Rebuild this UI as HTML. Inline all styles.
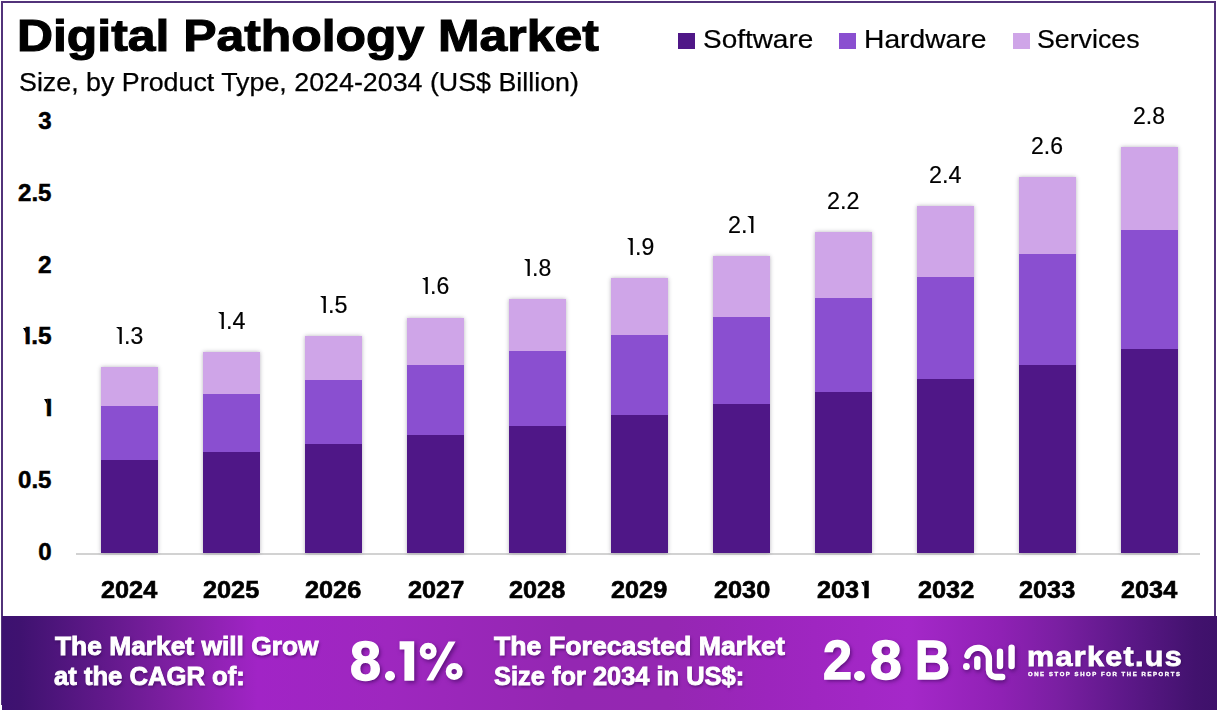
<!DOCTYPE html>
<html><head><meta charset="utf-8"><style>
html,body{margin:0;padding:0;}
body{width:1218px;height:712px;position:relative;overflow:hidden;background:#fff;font-family:"Liberation Sans",sans-serif;}
.t{position:absolute;white-space:nowrap;transform-origin:0 0;}
.frame{position:absolute;left:1px;top:1px;width:1211px;height:700px;border:2px solid #52327a;box-sizing:content-box;}
.bar{position:absolute;box-shadow:0 0 4px rgba(40,30,60,0.34);}
.bar div{width:100%;}
.sv{background:#cfa5e8;}
.hw{background:#8a4fd0;}
.sw{background:#4f1787;}
.axis{position:absolute;left:76px;top:553px;width:1124px;height:2px;background:#d2d2d2;}
.leg{position:absolute;width:17px;height:16.6px;top:32.9px;}
.banner{position:absolute;left:2px;top:616px;width:1215px;height:94px;background:linear-gradient(90deg,#3c1170 0%,#3f1270 1.48%,#63198c 8.72%,#8320a6 14.9%,#a124c6 21.07%,#9e27bf 31.77%,#9427b2 46.58%,#9527b2 54.81%,#9c25bd 63.05%,#a528c9 74.57%,#9021b5 81.98%,#7a1fa2 86.91%,#5c1888 92.67%,#42126e 98.19%,#3e116a 100%);}
.o{position:relative;margin-left:.07em;letter-spacing:0}.o::before{content:"";position:absolute;width:0;height:0;border-left:.17em solid transparent;border-top:.13em solid currentColor;left:-.08em;top:.219em}.ob{position:relative;margin-left:.15em;letter-spacing:0}.ob::before{content:"";position:absolute;width:0;height:0;border-left:.15em solid transparent;border-top:.23em solid currentColor;left:-.06em;top:.219em}
.dot{position:absolute;border-radius:50%;background:#fff;box-shadow:1px 2px 3px rgba(50,0,80,0.55);}
</style></head><body>
<div class="frame"></div>
<div class="axis"></div>
<div class="bar" style="left:100.6px;top:367px;width:57.8px;height:185.6px"><div class="sv" style="height:39px"></div><div class="hw" style="height:54px"></div><div class="sw" style="height:92.6px"></div></div>
<div class="bar" style="left:202.6px;top:352px;width:57.8px;height:200.6px"><div class="sv" style="height:42px"></div><div class="hw" style="height:58px"></div><div class="sw" style="height:100.6px"></div></div>
<div class="bar" style="left:304.6px;top:336px;width:57.8px;height:216.6px"><div class="sv" style="height:44px"></div><div class="hw" style="height:64px"></div><div class="sw" style="height:108.6px"></div></div>
<div class="bar" style="left:406.6px;top:317.5px;width:57.8px;height:235.1px"><div class="sv" style="height:47.5px"></div><div class="hw" style="height:70px"></div><div class="sw" style="height:117.6px"></div></div>
<div class="bar" style="left:508.6px;top:299px;width:57.8px;height:253.6px"><div class="sv" style="height:51.5px"></div><div class="hw" style="height:75px"></div><div class="sw" style="height:127.1px"></div></div>
<div class="bar" style="left:610.6px;top:278px;width:57.8px;height:274.6px"><div class="sv" style="height:56.5px"></div><div class="hw" style="height:80px"></div><div class="sw" style="height:138.1px"></div></div>
<div class="bar" style="left:712.6px;top:256px;width:57.8px;height:296.6px"><div class="sv" style="height:61px"></div><div class="hw" style="height:87px"></div><div class="sw" style="height:148.6px"></div></div>
<div class="bar" style="left:814.6px;top:232px;width:57.8px;height:320.6px"><div class="sv" style="height:66px"></div><div class="hw" style="height:94px"></div><div class="sw" style="height:160.6px"></div></div>
<div class="bar" style="left:916.6px;top:206px;width:57.8px;height:346.6px"><div class="sv" style="height:71px"></div><div class="hw" style="height:102px"></div><div class="sw" style="height:173.6px"></div></div>
<div class="bar" style="left:1018.6px;top:177px;width:57.8px;height:375.6px"><div class="sv" style="height:77px"></div><div class="hw" style="height:111px"></div><div class="sw" style="height:187.6px"></div></div>
<div class="bar" style="left:1120.6px;top:147px;width:57.8px;height:405.6px"><div class="sv" style="height:83px"></div><div class="hw" style="height:119px"></div><div class="sw" style="height:203.6px"></div></div>
<div class="leg" style="left:678.2px;background:#4f1787"></div>
<div class="leg" style="left:839.2px;background:#8a4fd0"></div>
<div class="leg" style="left:1013.2px;background:#cfa5e8"></div>
<div class="banner"></div>
<div class="t" style="left:16.86px;top:12.8px;font-size:45px;line-height:45px;font-weight:bold;color:#000;transform:scaleX(1.1080);-webkit-text-stroke:1.1px #000">Digital Pathology Market</div>
<div class="t" style="left:19.48px;top:69.53px;font-size:25px;line-height:25px;font-weight:normal;color:#000;transform:scaleX(1.0726);-webkit-text-stroke:0.25px #000">Size, by Product Type, 2024-2034 (US$ Billion)</div>
<div class="t" style="left:702.5px;top:26.56px;font-size:25.2px;line-height:25.2px;font-weight:normal;color:#000;transform:scaleX(1.1090);-webkit-text-stroke:0.2px #000">Software</div>
<div class="t" style="left:864.04px;top:26.56px;font-size:25.2px;line-height:25.2px;font-weight:normal;color:#000;transform:scaleX(1.1207);-webkit-text-stroke:0.2px #000">Hardware</div>
<div class="t" style="left:1037.06px;top:26.56px;font-size:25.2px;line-height:25.2px;font-weight:normal;color:#000;transform:scaleX(1.0614);-webkit-text-stroke:0.2px #000">Services</div>
<div class="t" style="left:38.23px;top:539.94px;font-size:24.08px;line-height:24.08px;font-weight:bold;color:#000;-webkit-text-stroke:0.5px #000">0</div>
<div class="t" style="left:18px;top:468.11px;font-size:24.08px;line-height:24.08px;font-weight:bold;color:#000;-webkit-text-stroke:0.5px #000">0.5</div>
<div class="t" style="left:41.83px;top:395.93px;font-size:24.78px;line-height:24.78px;font-weight:bold;color:#000;-webkit-text-stroke:0.5px #000"><span class="ob">I</span></div>
<div class="t" style="left:20.7px;top:324.17px;font-size:24.43px;line-height:24.43px;font-weight:bold;color:#000;-webkit-text-stroke:0.5px #000"><span class="ob">I</span>.5</div>
<div class="t" style="left:38.05px;top:252.59px;font-size:24.43px;line-height:24.43px;font-weight:bold;color:#000;-webkit-text-stroke:0.5px #000">2</div>
<div class="t" style="left:18px;top:180.81px;font-size:24.08px;line-height:24.08px;font-weight:bold;color:#000;-webkit-text-stroke:0.5px #000">2.5</div>
<div class="t" style="left:38.23px;top:108.99px;font-size:24.08px;line-height:24.08px;font-weight:bold;color:#000;-webkit-text-stroke:0.5px #000">3</div>
<div class="t" style="left:101.05px;top:578.97px;font-size:23.52px;line-height:23.52px;font-weight:bold;color:#000;transform:scaleX(1.0750);-webkit-text-stroke:0.6px #000">2024</div>
<div class="t" style="left:203.31px;top:578.97px;font-size:23.52px;line-height:23.52px;font-weight:bold;color:#000;transform:scaleX(1.0750);-webkit-text-stroke:0.6px #000">2025</div>
<div class="t" style="left:305.43px;top:578.97px;font-size:23.52px;line-height:23.52px;font-weight:bold;color:#000;transform:scaleX(1.0750);-webkit-text-stroke:0.6px #000">2026</div>
<div class="t" style="left:407.56px;top:578.97px;font-size:23.52px;line-height:23.52px;font-weight:bold;color:#000;transform:scaleX(1.0750);-webkit-text-stroke:0.6px #000">2027</div>
<div class="t" style="left:509.43px;top:578.97px;font-size:23.52px;line-height:23.52px;font-weight:bold;color:#000;transform:scaleX(1.0750);-webkit-text-stroke:0.6px #000">2028</div>
<div class="t" style="left:611.43px;top:578.97px;font-size:23.52px;line-height:23.52px;font-weight:bold;color:#000;transform:scaleX(1.0750);-webkit-text-stroke:0.6px #000">2029</div>
<div class="t" style="left:713.56px;top:578.97px;font-size:23.52px;line-height:23.52px;font-weight:bold;color:#000;transform:scaleX(1.0750);-webkit-text-stroke:0.6px #000">2030</div>
<div class="t" style="left:817.46px;top:578.97px;font-size:23.52px;line-height:23.52px;font-weight:bold;color:#000;transform:scaleX(1.0750);-webkit-text-stroke:0.6px #000">203<span class="ob">I</span></div>
<div class="t" style="left:917.56px;top:578.97px;font-size:23.52px;line-height:23.52px;font-weight:bold;color:#000;transform:scaleX(1.0750);-webkit-text-stroke:0.6px #000">2032</div>
<div class="t" style="left:1019.43px;top:578.97px;font-size:23.52px;line-height:23.52px;font-weight:bold;color:#000;transform:scaleX(1.0750);-webkit-text-stroke:0.6px #000">2033</div>
<div class="t" style="left:1121.05px;top:578.97px;font-size:23.52px;line-height:23.52px;font-weight:bold;color:#000;transform:scaleX(1.0750);-webkit-text-stroke:0.6px #000">2034</div>
<div class="t" style="left:116.4px;top:323.91px;font-size:23.94px;line-height:23.94px;font-weight:normal;color:#000;transform:scaleX(0.9600);-webkit-text-stroke:0.2px #000"><span class="o">I</span>.3</div>
<div class="t" style="left:218.09px;top:308.86px;font-size:24.29px;line-height:24.29px;font-weight:normal;color:#000;transform:scaleX(0.9600);-webkit-text-stroke:0.2px #000"><span class="o">I</span>.4</div>
<div class="t" style="left:320.21px;top:292.61px;font-size:24.29px;line-height:24.29px;font-weight:normal;color:#000;transform:scaleX(0.9600);-webkit-text-stroke:0.2px #000"><span class="o">I</span>.5</div>
<div class="t" style="left:422.4px;top:274.41px;font-size:23.94px;line-height:23.94px;font-weight:normal;color:#000;transform:scaleX(0.9600);-webkit-text-stroke:0.2px #000"><span class="o">I</span>.6</div>
<div class="t" style="left:524.4px;top:255.91px;font-size:23.94px;line-height:23.94px;font-weight:normal;color:#000;transform:scaleX(0.9600);-webkit-text-stroke:0.2px #000"><span class="o">I</span>.8</div>
<div class="t" style="left:626.51px;top:234.91px;font-size:23.94px;line-height:23.94px;font-weight:normal;color:#000;transform:scaleX(0.9600);-webkit-text-stroke:0.2px #000"><span class="o">I</span>.9</div>
<div class="t" style="left:728.21px;top:212.86px;font-size:24.29px;line-height:24.29px;font-weight:normal;color:#000;transform:scaleX(0.9600);-webkit-text-stroke:0.2px #000">2.<span class="o">I</span></div>
<div class="t" style="left:827.3px;top:188.86px;font-size:24.29px;line-height:24.29px;font-weight:normal;color:#000;transform:scaleX(0.9600);-webkit-text-stroke:0.2px #000">2.2</div>
<div class="t" style="left:929.06px;top:162.86px;font-size:24.29px;line-height:24.29px;font-weight:normal;color:#000;transform:scaleX(0.9600);-webkit-text-stroke:0.2px #000">2.4</div>
<div class="t" style="left:1031.41px;top:133.91px;font-size:23.94px;line-height:23.94px;font-weight:normal;color:#000;transform:scaleX(0.9600);-webkit-text-stroke:0.2px #000">2.6</div>
<div class="t" style="left:1133.41px;top:103.91px;font-size:23.94px;line-height:23.94px;font-weight:normal;color:#000;transform:scaleX(0.9600);-webkit-text-stroke:0.2px #000">2.8</div>
<div class="t" style="left:54.99px;top:633.76px;font-size:25.8px;line-height:25.8px;font-weight:bold;color:#fff;transform:scaleX(1.0216);-webkit-text-stroke:0.9px #fff;text-shadow:1px 2px 3px rgba(40,0,70,0.55)">The Market will Grow</div>
<div class="t" style="left:54.48px;top:664.16px;font-size:25.8px;line-height:25.8px;font-weight:bold;color:#fff;transform:scaleX(0.9933);-webkit-text-stroke:0.9px #fff;text-shadow:1px 2px 3px rgba(40,0,70,0.55)">at the CAGR of:</div>
<div class="t" style="left:494.48px;top:633.76px;font-size:25.8px;line-height:25.8px;font-weight:bold;color:#fff;transform:scaleX(1.0348);-webkit-text-stroke:0.9px #fff;text-shadow:1px 2px 3px rgba(40,0,70,0.55)">The Forecasted Market</div>
<div class="t" style="left:493.99px;top:664.16px;font-size:25.8px;line-height:25.8px;font-weight:bold;color:#fff;transform:scaleX(0.9856);-webkit-text-stroke:0.9px #fff;text-shadow:1px 2px 3px rgba(40,0,70,0.55)">Size for 2034 in US$:</div>
<div class="t" style="left:349.93px;top:632.55px;font-size:56.34px;line-height:56.34px;font-weight:bold;color:#fff;transform:scaleX(0.9905);-webkit-text-stroke:1.4px #fff;text-shadow:2px 2px 4px rgba(50,0,80,0.6)">8</div>
<div class="t" style="left:822.73px;top:632.66px;font-size:55.57px;line-height:55.57px;font-weight:bold;color:#fff;transform:scaleX(0.9401);-webkit-text-stroke:1.4px #fff;text-shadow:2px 2px 4px rgba(50,0,80,0.6)">2</div>
<div class="t" style="left:869.69px;top:632.7px;font-size:55.35px;line-height:55.35px;font-weight:bold;color:#fff;transform:scaleX(1.0298);-webkit-text-stroke:1.4px #fff;text-shadow:2px 2px 4px rgba(50,0,80,0.6)">8</div>
<div class="t" style="left:914.6px;top:633.21px;font-size:54.93px;line-height:54.93px;font-weight:bold;color:#fff;transform:scaleX(0.8834);-webkit-text-stroke:1.4px #fff;text-shadow:2px 2px 4px rgba(50,0,80,0.6)">B</div>
<div class="t" style="left:1026.67px;top:642.74px;font-size:27.16px;line-height:27.16px;font-weight:bold;color:#fff;transform:scaleX(1.1223);-webkit-text-stroke:0.8px #fff;letter-spacing:1.2px;text-shadow:1px 1px 2px rgba(40,0,70,0.5)">market.us</div>
<div class="t" style="left:1028.34px;top:671.76px;font-size:5.42px;line-height:5.42px;font-weight:bold;color:#fff;transform:scaleX(1.1010);-webkit-text-stroke:0.35px #fff;letter-spacing:1.45px">ONE STOP SHOP FOR THE REPORTS</div>
<div class="dot" style="left:384.8px;top:671.2px;width:10.6px;height:10px"></div>
<div class="dot" style="left:854.3px;top:670.8px;width:10.8px;height:10px"></div>
<svg style="position:absolute;left:0;top:0;filter:drop-shadow(2px 2px 2px rgba(50,0,80,0.55))" width="1218" height="712">
<path d="M399.6 641.2 H414.2 V680.8 H404.4 V649.6 H399.6 Z" fill="#fff"/>
<circle cx="428.2" cy="651.2" r="5.6" fill="none" stroke="#fff" stroke-width="5.8"/>
<circle cx="454.2" cy="671.6" r="5.6" fill="none" stroke="#fff" stroke-width="5.8"/>
<path d="M426.3 680.6 L433.3 680.6 L455.6 641.6 L448.6 641.6 Z" fill="#fff"/>
</svg>
<svg style="position:absolute;left:0;top:0;filter:drop-shadow(1px 2px 2px rgba(40,0,70,0.55))" width="1218" height="712">
<g fill="none" stroke="#fff" stroke-width="6.4" stroke-linecap="round">
<path d="M967.4 655.6 A11 11 0 0 1 988.9 658.4 L988.9 670 A7 7 0 0 0 995.9 677 L1002.2 677"/>
<line x1="977.3" y1="659.3" x2="977.3" y2="666.8"/>
<line x1="1000" y1="651.8" x2="1000" y2="666"/>
<line x1="1011.6" y1="647.6" x2="1011.6" y2="666"/>
</g>
<circle cx="966.4" cy="666.5" r="3.4" fill="#fff"/>
</svg>
</body></html>
